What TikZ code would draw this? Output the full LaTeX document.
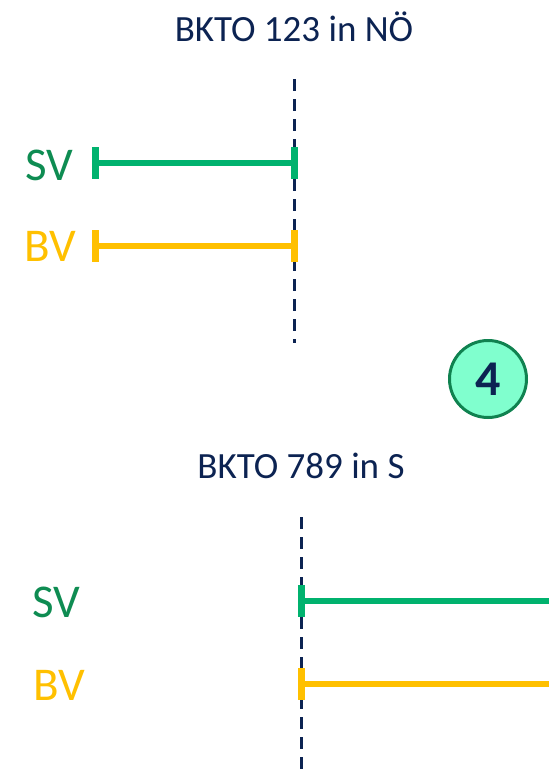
\documentclass[tikz,border=0pt]{standalone}
\usepackage{fontspec}
\setmainfont{Carlito}
\definecolor{navy}{RGB}{12,35,82}
\definecolor{svgreen}{RGB}{0,178,110}
\definecolor{svtext}{RGB}{14,140,82}
\definecolor{gold}{RGB}{255,192,0}
\definecolor{mint}{RGB}{128,255,206}
\definecolor{ring}{RGB}{16,130,80}
\begin{document}
\begin{tikzpicture}[x=1pt,y=-1pt,
  title/.style={anchor=base, inner sep=0pt, text=navy, font=\fontsize{37}{41}\selectfont},
  lab/.style={anchor=base west, inner sep=0pt, font=\fontsize{47}{51}\selectfont},
  divider/.style={draw=navy, line width=3pt, dash pattern=on 12pt off 8pt},
  bar/.style={line width=6.5pt},
  endcap/.style={minimum width=7pt, minimum height=32pt, inner sep=0pt, outer sep=0pt, fill=#1},
]
\useasboundingbox (0,0) rectangle (549,776);

% top block
\node[title] (t1) at (294,42) {BKTO 123 in NÖ};
\coordinate (d1a) at (294,79);
\coordinate (d1b) at (294,343);
\draw[divider] (d1a) -- (d1b);

\node[lab, text=svtext] (sv1) at (25,180) {SV};
\node[lab, text=gold] (bv1) at (24,261) {BV};

\node[endcap=svgreen] (s1a) at (95,163) {};
\node[endcap=svgreen] (s1b) at (294,163) {};
\draw[bar, svgreen] (s1a.center) -- (s1b.center);

\node[endcap=gold] (b1a) at (95,246) {};
\node[endcap=gold] (b1b) at (294,246) {};
\draw[bar, gold] (b1a.center) -- (b1b.center);

% badge
\node[circle, draw=ring, line width=3pt, fill=mint, minimum size=77pt, inner sep=0pt,
      font=\bfseries\fontsize{50}{54}\selectfont, text=navy] (badge) at (488,379) {4};

% bottom block
\node[title] (t2) at (301,478) {BKTO 789 in S};
\coordinate (d2a) at (301,517);
\coordinate (d2b) at (301,776);
\draw[divider] (d2a) -- (d2b);

\node[lab, text=svtext] (sv2) at (32,617) {SV};
\node[lab, text=gold] (bv2) at (33,700) {BV};

\node[endcap=svgreen] (s2a) at (301,601) {};
\coordinate (s2b) at (549,601);
\draw[bar, svgreen] (s2a.center) -- (s2b);

\node[endcap=gold] (b2a) at (301,684) {};
\coordinate (b2b) at (549,684);
\draw[bar, gold] (b2a.center) -- (b2b);
\end{tikzpicture}
\end{document}
